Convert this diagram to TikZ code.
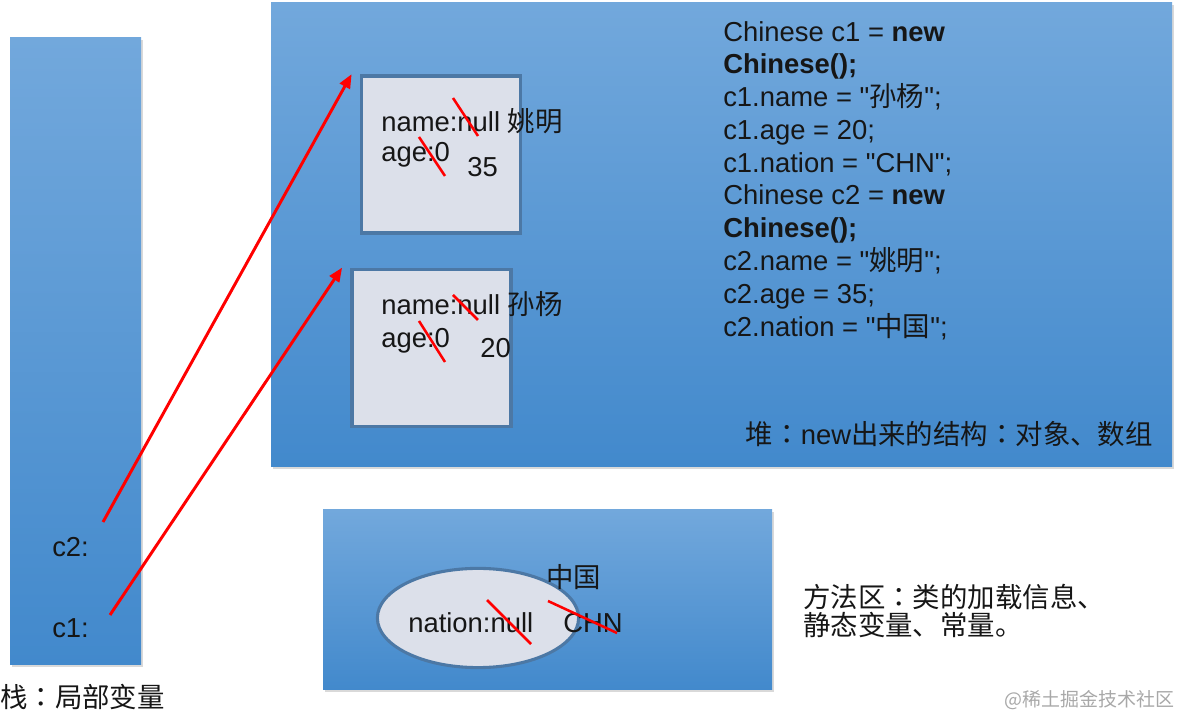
\documentclass[tikz,border=0pt]{standalone}
\usepackage{fontspec}
\newfontfamily\latin{Liberation Sans}
\newfontfamily\cjk{Noto Sans CJK SC}
\newfontfamily\cjkpunct{Noto Sans CJK TC}
\newcommand\colonzh{{\cjkpunct ：}}
\usetikzlibrary{shapes.geometric,arrows.meta,shadows}
\definecolor{AreaTop}{HTML}{72A8DC}
\definecolor{AreaBottom}{HTML}{4289CC}
\definecolor{BoxFill}{HTML}{DCE0EA}
\definecolor{BoxLine}{HTML}{4C78A5}
\definecolor{TextInk}{HTML}{161616}
\definecolor{MarkGray}{HTML}{A8A8A8}

\begin{document}
\begin{tikzpicture}[x=0.025cm,y=-0.025cm]
                  \tikzset{AreaStyle/.style = {top color = AreaTop, bottom color = AreaBottom,
                                               drop shadow = {shadow xshift = 1.2pt, shadow yshift = -1.2pt, opacity = .3}}}
                  \tikzset{ObjStyle/.style = {shape = rectangle, fill = BoxFill, draw = BoxLine, line width = 2.5pt,
                                              minimum width = 3.98cm, minimum height = 3.93cm, inner sep = 0pt}}
                  \tikzset{TextStyle/.style = {inner sep = 0pt, text = TextInk, font = \latin\fontsize{19.5}{23.3}\selectfont}}
                  \tikzset{RefStyle/.style = {draw = red, line width = 2.1pt, -{Triangle[length = 10pt, width = 8pt]}}}
                  \tikzset{CrossStyle/.style = {draw = red, line width = 1.8pt}}
                  \useasboundingbox (0,0) rectangle (1180,720);
                  % stack, heap, method area
                  \path[AreaStyle] (10,38) rectangle (141,665);
                  \path[AreaStyle] (271,3) rectangle (1172,467);
                  \path[AreaStyle] (323,510) rectangle (772,690);
                  % stack
                  \node[TextStyle, anchor = base west] (c2) at (52,557) {c2:};
                  \node[TextStyle, anchor = base west] (c1) at (52,638) {c1:};
                  \node[TextStyle, anchor = west] (stack) at (0,697) {\cjk 栈\colonzh 局部变量};
                  \coordinate (c2tail) at (103,522);
                  \coordinate (c1tail) at (110,615);
                  % heap
                  \node[ObjStyle] (obj2) at (441,154.5) {};
                  \node[ObjStyle] (obj1) at (431.5,348) {};
                  \node[TextStyle, anchor = base west] (name2) at (381,131.5) {name:null {\cjk 姚明}};
                  \node[TextStyle, anchor = base west] (age2) at (381,161.5) {age:0};
                  \node[TextStyle, anchor = base west] (val2) at (467,176.5) {35};
                  \node[TextStyle, anchor = base west] (name1) at (381,315) {name:null {\cjk 孙杨}};
                  \node[TextStyle, anchor = base west] (age1) at (381,348) {age:0};
                  \node[TextStyle, anchor = base west] (val1) at (480,358) {20};
                  \node[TextStyle, anchor = north west, align = left] (code) at (723,21)
                      {Chinese c1 = \textbf{new}\\
                       \textbf{Chinese();}\\
                       c1.name = "{\cjk 孙杨}";\\
                       c1.age = 20;\\
                       c1.nation = "CHN";\\
                       Chinese c2 = \textbf{new}\\
                       \textbf{Chinese();}\\
                       c2.name = "{\cjk 姚明}";\\
                       c2.age = 35;\\
                       c2.nation = "{\cjk 中国}";};
                  \node[TextStyle, anchor = base east] (heap) at (1153,445)
                      {{\cjk 堆}\colonzh new{\cjk 出来的结构}\colonzh{\cjk 对象、数组}};
                  % method area
                  \node[ObjStyle, ellipse, line width = 2.2pt, minimum width = 5.03cm, minimum height = 2.48cm] (cls) at (478,618) {};
                  \node[TextStyle, anchor = base west] (nation) at (408,633) {nation:null};
                  \node[TextStyle, anchor = base west] (chn) at (563,633) {CHN};
                  \node[TextStyle, anchor = base west] (zg) at (546,588) {\cjk 中国};
                  \node[TextStyle, anchor = base west, align = left, font = \cjk\fontsize{19.5}{20.5}\selectfont] (method) at (803,636)
                      {方法区\colonzh 类的加载信息、\\静态变量、常量。};
                  \node[inner sep = 0pt, anchor = east, text = MarkGray, font = \cjk\fontsize{13.5}{14}\selectfont] (mark) at (1175,700)
                      {@稀土掘金技术社区};
                  % references
                  \draw[RefStyle] (c2tail) -- ([xshift = -0.2cm]obj2.north west);
                  \draw[RefStyle] (c1tail) -- ([xshift = -0.2cm]obj1.north west);
                  % overwritten values
                  \draw[CrossStyle] (453,98) -- (478,136);
                  \draw[CrossStyle] (419,137) -- (445,176);
                  \draw[CrossStyle] (453,295) -- (478,320);
                  \draw[CrossStyle] (419,321) -- (445,362);
                  \draw[CrossStyle] (487,600) -- (531,644);
                  \draw[CrossStyle] (548,601) -- (617,633);
              \end{tikzpicture}
\end{document}
